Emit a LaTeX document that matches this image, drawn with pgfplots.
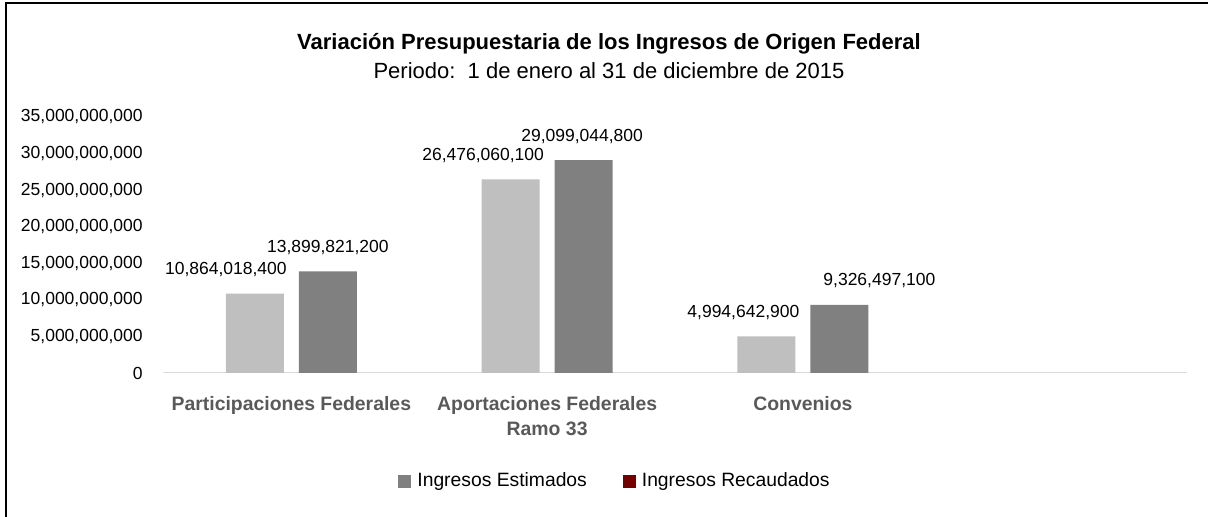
\documentclass[border=0pt]{standalone}
\usepackage{fontspec}
\setmainfont{Liberation Sans}
\usepackage{pgfplots}
\usepackage{pgfplotstable}
\pgfplotsset{compat=1.18}

\definecolor{barA}{HTML}{BFBFBF}
\definecolor{barB}{HTML}{808080}
\definecolor{legB}{HTML}{750000}
\definecolor{catgray}{HTML}{595959}
\definecolor{basegray}{HTML}{D9D9D9}

% x: categoria, est/rec: ingresos, *lab: etiqueta, *dx: desplazamiento de la etiqueta (pt)
\pgfplotstableread{
x est estlab estdx rec reclab recdx
0 10864018400 10,864,018,400 -32.75 13899821200 13,899,821,200 18.25
1 26476060100 26,476,060,100 -32 29099044800 29,099,044,800 17.5
2 4994642900 4,994,642,900 -29.75 9326497100 9,326,497,100 38.25
}\datos

\begin{document}
\begin{tikzpicture}[x=1pt,y=1pt]
\path[use as bounding box] (0,0) rectangle (604,258.5);
\draw[line width=1pt] (2.75,0) -- (2.75,256.85) -- (604,256.85);
\node[font=\fontsize{11}{13}\selectfont\bfseries] at (304.5,236.5)
  {Variación Presupuestaria de los Ingresos de Origen Federal};
\node[font=\fontsize{11}{13}\selectfont] at (304.5,223)
  {Periodo:\ \ 1 de enero al 31 de diciembre de 2015};

\begin{axis}[
  at={(81.75pt,72pt)}, anchor=south west,
  scale only axis, width=511.5pt, height=128pt,
  xmin=-0.5, xmax=3.5, ymin=0, ymax=35000000000,
  axis line style={draw=none},
  major tick length=0pt,
  /pgf/number format/assume math mode=true,
  scaled y ticks=false,
  ytick={0,5000000000,10000000000,15000000000,20000000000,25000000000,30000000000,35000000000},
  yticklabel style={/pgf/number format/fixed, /pgf/number format/precision=0,
    /pgf/number format/1000 sep={,}, font=\fontsize{8.75}{10}\selectfont,
    inner sep=0pt, xshift=-10.25pt},
  xtick={0,1,2},
  xticklabels={Participaciones Federales, {Aportaciones Federales\\Ramo 33}, Convenios},
  xticklabel style={align=center, font=\fontsize{9.7}{12.5}\selectfont\bfseries,
    text=catgray, inner sep=0pt, yshift=-11.5pt},
  legend columns=2,
  legend style={at={(0.4404,-0.4238)}, anchor=center, draw=none,
    font=\fontsize{9.65}{11}\selectfont, nodes={inner sep=0pt},
    /tikz/every odd column/.append style={column sep=3pt},
    /tikz/every even column/.append style={column sep=18pt}},
  legend image code/.code={\fill[#1] (0pt,-3.25pt) rectangle (6.5pt,3.25pt);},
  nodes near coords,
  point meta=explicit symbolic,
  every node near coord/.append style={font=\fontsize{8.75}{10}\selectfont,
    text=black, inner sep=0pt, anchor=base, yshift=9.5pt},
]
\draw[basegray, line width=0.75pt] (rel axis cs:0,0) -- (rel axis cs:1,0);
\addplot[ybar, bar width=29pt, bar shift=-18.25pt, fill=barA, draw=none, forget plot,
  visualization depends on={\thisrow{estdx} \as \dx},
  every node near coord/.append style={xshift=\dx}]
  table[x=x, y=est, meta=estlab] {\datos};
\addplot[ybar, bar width=29pt, bar shift=18.25pt, fill=barB, draw=none, forget plot,
  visualization depends on={\thisrow{recdx} \as \dx},
  every node near coord/.append style={xshift=\dx}]
  table[x=x, y=rec, meta=reclab] {\datos};
\addlegendimage{fill=barB, draw=none}
\addlegendentry{Ingresos Estimados}
\addlegendimage{fill=legB, draw=none}
\addlegendentry{Ingresos Recaudados}
\end{axis}
\end{tikzpicture}
\end{document}
